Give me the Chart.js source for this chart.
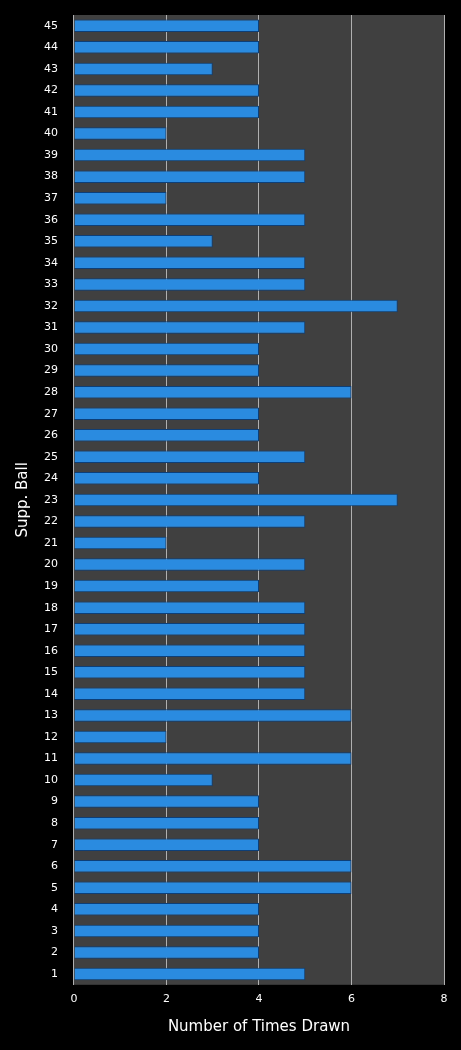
<!DOCTYPE html>
<html>
<head>
<meta charset="utf-8">
<script src="https://cdn.jsdelivr.net/npm/chart.js@4"></script>
<style>
  body { margin: 0; background: #000; }
  #wrap { width: 461px; height: 1050px; }
</style>
</head>
<body>
<div id="wrap"><canvas id="chart"></canvas></div>
<script>
// Supp. ball numbers and how often each one was drawn
const balls = [];
for (let i = 1; i <= 45; i++) balls.push(String(i));
const timesDrawn = [5, 4, 4, 4, 6, 6, 4, 4, 4, 3, 6, 2, 6, 5, 5, 5, 5, 5, 4, 5, 2, 5, 7, 4, 5,
                    4, 4, 6, 4, 4, 5, 7, 5, 5, 3, 5, 2, 5, 5, 2, 4, 4, 3, 4, 4];
const xTicks = [0, 2, 4, 6, 8];

// grey plot area behind the bars
const plotBg = {
    id: 'plotBg',
    beforeDraw(chart) {
        const a = chart.chartArea, c = chart.ctx;
        c.save();
        c.fillStyle = '#404040';
        c.fillRect(a.left, a.top, a.right - a.left, a.bottom - a.top);
        c.restore();
    }
};

const ctx = document.getElementById('chart').getContext('2d');
new Chart(ctx, {
    type: 'bar',
    data: {
        labels: balls,
        datasets: [{
            data: timesDrawn,
            backgroundColor: function (context) {
                const bar = context.element;
                if (!bar || bar.y === undefined) return '#2a8be0';
                const g = context.chart.ctx.createLinearGradient(0, bar.y - 6, 0, bar.y + 6);
                g.addColorStop(0, '#8cc8ff');
                g.addColorStop(0.35, '#2a90ea');
                g.addColorStop(1, '#135aa8');
                return g;
            },
            borderColor: '#0d3f78',
            borderWidth: 1,
            barPercentage: 0.58,
            categoryPercentage: 1
        }]
    },
    plugins: [plotBg],
    options: {
        indexAxis: 'y',
        responsive: true,
        maintainAspectRatio: false,
        animation: false,
        layout: { padding: { top: 15, right: 17, bottom: 10, left: 10 } },
        plugins: { legend: { display: false }, tooltip: { enabled: false } },
        scales: {
            x: {
                min: 0,
                max: 8,
                afterBuildTicks: function (axis) {
                    axis.ticks = xTicks.map(v => ({ value: v }));
                },
                grid: { color: '#b0b0b0', drawTicks: false },
                border: { display: false },
                ticks: { color: '#fff', font: { family: 'DejaVu Sans', size: 11 }, padding: 8 },
                title: { display: true, text: 'Number of Times Drawn', color: '#fff',
                         font: { family: 'DejaVu Sans', size: 15 } }
            },
            y: {
                reverse: true,
                grid: { display: false },
                border: { display: false },
                ticks: { color: '#fff', font: { family: 'DejaVu Sans', size: 11 }, autoSkip: false, padding: 8 },
                title: { display: true, text: 'Supp. Ball', color: '#fff',
                         font: { family: 'DejaVu Sans', size: 15 } }
            }
        }
    }
});
</script>
</body>
</html>
